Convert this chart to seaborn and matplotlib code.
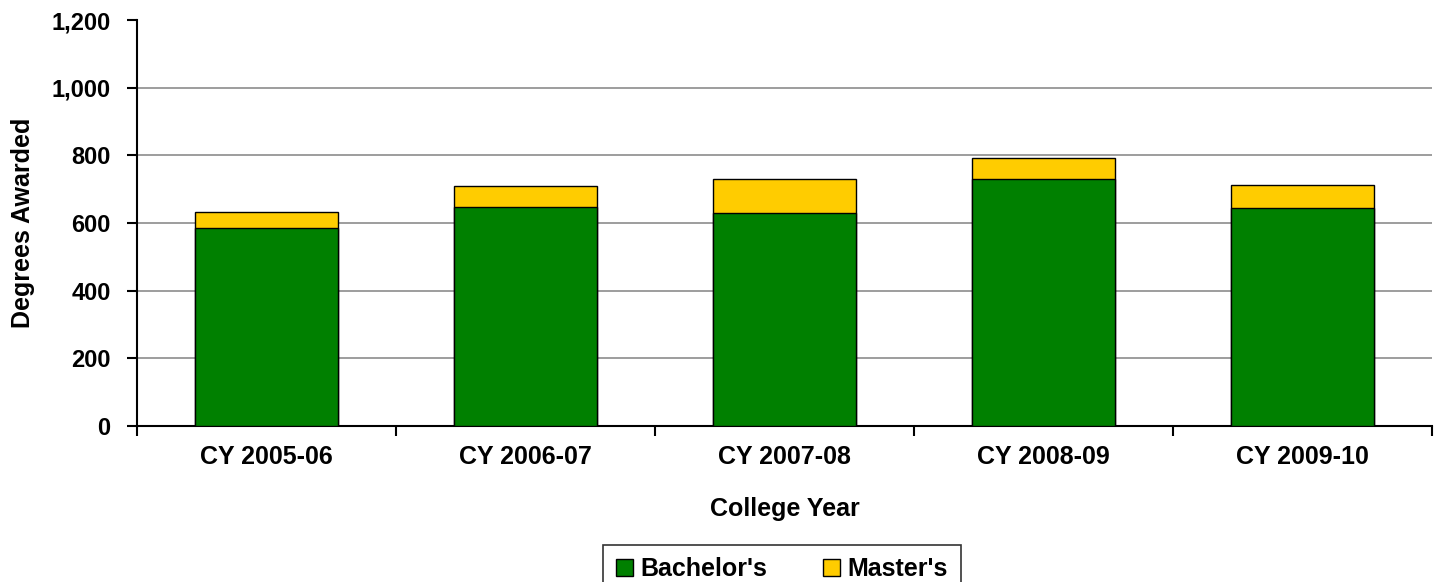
import pandas as pd
import seaborn as sns
import matplotlib.pyplot as plt
from matplotlib.patches import Patch

years = ["CY 2005-06", "CY 2006-07", "CY 2007-08", "CY 2008-09", "CY 2009-10"]
bachelors = [586, 647, 630, 729, 643]
masters = [46, 61, 101, 62, 69]

df = pd.DataFrame({"Year": years, "Bachelor's": bachelors, "Master's": masters})
df["Total"] = df["Bachelor's"] + df["Master's"]

sns.set_style("white")
plt.rcParams['font.family'] = ['Liberation Sans', 'DejaVu Sans']
plt.rcParams['font.weight'] = 'bold'
plt.rcParams['text.color'] = 'black'
plt.rcParams['axes.labelcolor'] = 'black'
plt.rcParams['xtick.color'] = 'black'
plt.rcParams['ytick.color'] = 'black'

green = "#008000"
yellow = "#FFCC00"

fig = plt.figure(figsize=(14.36, 5.82), dpi=100)
ax = fig.add_axes([0.0954, 0.268, 0.9018, 0.6976])

# stacked: draw the totals first, then bachelor's on top
sns.barplot(data=df, x="Year", y="Total", color=yellow, edgecolor="black",
            linewidth=1, width=0.55, saturation=1, ax=ax, zorder=3)
sns.barplot(data=df, x="Year", y="Bachelor's", color=green, edgecolor="black",
            linewidth=1, width=0.55, saturation=1, ax=ax, zorder=3)

ax.set_ylim(0, 1200)
ax.set_xlim(-0.5, 4.5)
ax.set_yticks(range(0, 1201, 200))
ax.set_yticklabels([f"{v:,}" for v in range(0, 1201, 200)])
ax.yaxis.grid(True, color="#8c8c8c", linewidth=1.2, zorder=0)
ax.get_ygridlines()[-1].set_visible(False)
ax.set_axisbelow(True)

for s in ["top", "right"]:
    ax.spines[s].set_visible(False)
for s in ["left", "bottom"]:
    ax.spines[s].set_color("black")
    ax.spines[s].set_linewidth(1.5)

# x ticks at category boundaries
ax.tick_params(axis="x", which="major", length=0, pad=14, labelsize=18)
ax.set_xticks([i - 0.5 for i in range(6)], minor=True)
ax.tick_params(axis="x", which="minor", bottom=True, length=7, width=1.5,
               color="black", direction="out")
ax.tick_params(axis="y", left=True, length=7, width=1.5, color="black",
               direction="out", labelsize=17, pad=12)
for lbl in ax.get_xticklabels() + ax.get_yticklabels():
    lbl.set_fontweight("bold")

ax.set_xlabel("College Year", fontsize=18, fontweight="bold", labelpad=20)
ax.set_ylabel("Degrees Awarded", fontsize=18, fontweight="bold", labelpad=12)

handles = [Patch(facecolor=green, edgecolor="black", label="Bachelor's"),
           Patch(facecolor=yellow, edgecolor="black", label="Master's")]
leg = fig.legend(handles=handles, loc="upper center", bbox_to_anchor=(0.5445, 0.064),
                 ncol=2, frameon=True, fancybox=False, borderaxespad=0,
                 handlelength=0.7, handleheight=0.7, handletextpad=0.3,
                 columnspacing=2.2, borderpad=0.5, edgecolor="black",
                 prop={"weight": "bold", "size": 18})
leg.get_frame().set_linewidth(1.2)

plt.savefig("out.png", dpi=100)
